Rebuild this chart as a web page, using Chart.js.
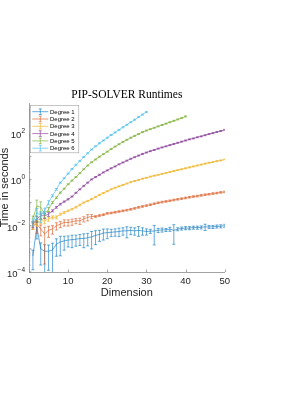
<!DOCTYPE html>
<html>
<head>
<meta charset="utf-8">
<script src="https://cdn.jsdelivr.net/npm/chart.js@4.4.1/dist/chart.umd.min.js"></script>
<style>
  html, body { margin: 0; padding: 0; background: #fff; }
  #wrap { width: 289px; height: 410px; }
</style>
</head>
<body>
<div id="wrap"><canvas id="runtimes" width="289" height="410"></canvas></div>
<script>
// dimensions 1..50
const dimension = [1, 2, 3, 4, 5, 6, 7, 8, 9, 10, 11, 12, 13, 14, 15, 16, 17, 18, 19, 20,
  21, 22, 23, 24, 25, 26, 27, 28, 29, 30, 31, 32, 33, 34, 35, 36, 37, 38, 39, 40,
  41, 42, 43, 44, 45, 46, 47, 48, 49, 50];

const degreeLabels = ['Degree 1', 'Degree 2', 'Degree 3', 'Degree 4', 'Degree 5', 'Degree 6'];

// mean runtime in seconds
const degree1 = [5.0e-4, 8.9e-3, 1.0e-3, 7.9e-4, 7.9e-4, 8.9e-4, 1.6e-3, 2.0e-3, 2.2e-3, 2.4e-3,
  2.5e-3, 2.6e-3, 2.8e-3, 2.8e-3, 3.0e-3, 3.3e-3, 3.8e-3, 4.2e-3, 4.8e-3, 5.0e-3,
  5.2e-3, 5.4e-3, 5.6e-3, 6.0e-3, 6.0e-3, 6.3e-3, 6.0e-3, 6.3e-3, 6.0e-3, 5.6e-3,
  5.8e-3, 5.9e-3, 6.3e-3, 6.6e-3, 6.6e-3, 7.1e-3, 6.3e-3, 7.1e-3, 7.6e-3, 7.9e-3,
  7.9e-3, 8.3e-3, 8.3e-3, 8.5e-3, 8.9e-3, 8.9e-3, 8.9e-3, 9.3e-3, 9.5e-3, 1.0e-2];
const degree2 = [1.0e-2, 1.17e-2, 7.2e-3, 4.4e-3, 6.3e-3, 7.2e-3, 1.0e-2, 1.17e-2, 1.38e-2, 1.38e-2,
  1.48e-2, 1.62e-2, 1.62e-2, 1.95e-2, 2.3e-2, 2.5e-2, 2.5e-2, 2.75e-2, 3.0e-2, 3.4e-2,
  3.55e-2, 3.8e-2, 4.1e-2, 4.4e-2, 4.7e-2, 5.1e-2, 5.6e-2, 6.2e-2, 6.8e-2, 7.4e-2,
  8.1e-2, 8.9e-2, 9.8e-2, 0.105, 0.112, 0.12, 0.129, 0.138, 0.148, 0.158,
  0.17, 0.182, 0.19, 0.204, 0.219, 0.229, 0.245, 0.257, 0.275, 0.288];
const degree3 = [1.0e-2, 1.38e-2, 1.62e-2, 1.62e-2, 1.95e-2, 2.3e-2, 2.3e-2, 3.16e-2, 3.7e-2, 4.4e-2,
  5.2e-2, 6.3e-2, 7.9e-2, 0.1, 0.117, 0.141, 0.174, 0.214, 0.257, 0.309,
  0.372, 0.437, 0.501, 0.575, 0.661, 0.759, 0.851, 0.955, 1.07, 1.17,
  1.32, 1.45, 1.58, 1.74, 1.91, 2.09, 2.29, 2.51, 2.75, 3.02,
  3.31, 3.63, 3.98, 4.37, 4.79, 5.25, 5.62, 6.17, 6.61, 7.24];
const degree4 = [1.17e-2, 1.95e-2, 2.7e-2, 2.7e-2, 3.16e-2, 4.4e-2, 6.2e-2, 8.5e-2, 0.11, 0.138,
  0.182, 0.263, 0.372, 0.525, 0.724, 1.0, 1.26, 1.58, 2.0, 2.45,
  3.02, 3.63, 4.47, 5.37, 6.46, 7.76, 9.12, 10.7, 12.6, 14.5,
  16.6, 18.6, 21.4, 24.0, 26.9, 30.2, 33.9, 38.0, 42.7, 47.9,
  53.7, 58.9, 66.1, 72.4, 81.3, 91.2, 100, 112, 123, 138];
const degree5 = [2.0e-2, 7.1e-2, 6.3e-2, 3.16e-2, 5.1e-2, 0.1, 0.162, 0.269, 0.398, 0.617,
  0.891, 1.26, 1.86, 2.75, 3.98, 5.5, 7.24, 9.55, 12.3, 15.8,
  20.4, 26.3, 33.1, 41.7, 51.3, 63.1, 75.9, 91.2, 110, 129,
  148, 170, 195, 224, 257, 295, 339, 389, 447, 525];
const degree6 = [1.38e-2, 3.7e-2, 2.7e-2, 4.4e-2, 0.1, 0.195, 0.372, 0.724, 1.12, 1.78,
  2.82, 4.27, 6.31, 9.33, 13.5, 19.5, 26.9, 36.3, 47.9, 63.1,
  83.2, 107, 138, 178, 229, 295, 380, 490, 631, 813];

// standard deviation, as a fraction of the mean
const degree1Err = [0.75, 0.7, 0.8, 0.9, 0.85, 0.97, 0.7, 0.75, 0.6, 0.5,
  0.55, 0.5, 0.5, 0.6, 0.55, 0.7, 0.6, 0.5, 0.5, 0.45,
  0.35, 0.35, 0.4, 0.35, 0.5, 0.35, 0.35, 0.45, 0.35, 0.3,
  0.2, 0.75, 0.2, 0.2, 0.15, 0.2, 0.75, 0.15, 0.15, 0.15,
  0.15, 0.15, 0.15, 0.15, 0.3, 0.15, 0.15, 0.15, 0.15, 0.15];
const degree2Err = [0.3, 0.6, 0.5, 0.95, 0.5, 0.4, 0.35, 0.3, 0.3, 0.3,
  0.3, 0.25, 0.3, 0.25, 0.3, 0.2, 0.08, 0.08, 0.08, 0.08,
  0.08, 0.08, 0.08, 0.08, 0.08, 0.08, 0.08, 0.08, 0.08, 0.08,
  0.08, 0.08, 0.08, 0.08, 0.08, 0.08, 0.08, 0.08, 0.08, 0.08,
  0.08, 0.08, 0.08, 0.08, 0.08, 0.08, 0.08, 0.08, 0.08, 0.08];
const degree3Err = [0.3, 0.3, 0.25, 0.25, 0.2, 0.15, 0.15, 0.1, 0.1, 0.08,
  0.08, 0.08, 0.08, 0.06, 0.06, 0.06, 0.06, 0.05, 0.05, 0.05,
  0.05, 0.05, 0.05, 0.05, 0.05, 0.05, 0.05, 0.05, 0.05, 0.05,
  0.05, 0.05, 0.05, 0.05, 0.05, 0.05, 0.05, 0.05, 0.05, 0.05,
  0.05, 0.05, 0.05, 0.05, 0.05, 0.05, 0.05, 0.05, 0.05, 0.05];
const degree4Err = [0.3, 0.3, 0.3, 0.25, 0.2, 0.1, 0.08, 0.08, 0.06, 0.06,
  0.05, 0.05, 0.05, 0.05, 0.05, 0.05, 0.05, 0.05, 0.05, 0.05,
  0.05, 0.05, 0.05, 0.05, 0.05, 0.05, 0.05, 0.05, 0.05, 0.05,
  0.05, 0.05, 0.05, 0.05, 0.05, 0.05, 0.05, 0.05, 0.05, 0.05,
  0.05, 0.05, 0.05, 0.05, 0.05, 0.05, 0.05, 0.05, 0.05, 0.05];
const degree5Err = [0.3, 0.8, 0.7, 0.3, 0.2, 0.1, 0.08, 0.06, 0.05, 0.05,
  0.05, 0.05, 0.05, 0.05, 0.05, 0.05, 0.05, 0.05, 0.05, 0.05,
  0.05, 0.05, 0.05, 0.05, 0.05, 0.05, 0.05, 0.05, 0.05, 0.05,
  0.05, 0.05, 0.05, 0.05, 0.05, 0.05, 0.05, 0.05, 0.05, 0.05];
const degree6Err = [0.3, 0.5, 0.5, 0.3, 0.2, 0.1, 0.08, 0.06, 0.05, 0.05,
  0.05, 0.05, 0.05, 0.05, 0.05, 0.05, 0.05, 0.05, 0.05, 0.05,
  0.05, 0.05, 0.05, 0.05, 0.05, 0.05, 0.05, 0.05, 0.05, 0.05];

const xTicks = [0, 10, 20, 30, 40, 50];
const yTickExponents = [-4, -2, 0, 2];

const lineColors = ['rgba(0,114,189,0.75)', 'rgba(217,83,25,0.75)', 'rgba(237,177,32,0.8)',
  'rgba(126,47,142,0.75)', 'rgba(119,172,48,0.8)', 'rgba(77,190,238,0.85)'];
const allSeries = [degree1, degree2, degree3, degree4, degree5, degree6];
const allErrors = [degree1Err, degree2Err, degree3Err, degree4Err, degree5Err, degree6Err];

const datasets = allSeries.map((series, k) => ({
  label: degreeLabels[k],
  data: series.map((v, i) => ({ x: dimension[i], y: v })),
  borderColor: lineColors[k],
  borderWidth: 0.8,
  pointRadius: 0,
  fill: false,
  tension: 0,
  order: 6 - k,
  errFrac: allErrors[k],
}));

// error bars, ticks, superscript labels, title and legend in MATLAB style
const matlabLook = {
  id: 'matlabLook',
  afterDatasetDraw(chart, args) {
    const ds = chart.data.datasets[args.index];
    const xs = chart.scales.x, ys = chart.scales.y;
    const area = chart.chartArea;
    const ctx = chart.ctx;
    ctx.save();
    ctx.beginPath();
    ctx.rect(area.left, area.top - 2, area.right - area.left, area.bottom - area.top + 2);
    ctx.clip();
    ctx.strokeStyle = ds.borderColor;
    ctx.lineWidth = 0.8;
    ds.data.forEach((p, i) => {
      const e = ds.errFrac[i] * p.y;
      const px = xs.getPixelForValue(p.x);
      const top = ys.getPixelForValue(p.y + e);
      const lo = p.y - e;
      const bot = lo > ys.min ? ys.getPixelForValue(lo) : area.bottom;
      ctx.beginPath();
      ctx.moveTo(px, top); ctx.lineTo(px, bot);
      ctx.moveTo(px - 1.5, top); ctx.lineTo(px + 1.5, top);
      if (lo > ys.min) { ctx.moveTo(px - 1.5, bot); ctx.lineTo(px + 1.5, bot); }
      ctx.stroke();
    });
    ctx.restore();
  },
  afterDraw(chart) {
    const ctx = chart.ctx;
    const area = chart.chartArea;
    const xs = chart.scales.x, ys = chart.scales.y;
    ctx.save();
    // inward ticks
    ctx.strokeStyle = '#8a8a8a';
    ctx.lineWidth = 0.8;
    ctx.beginPath();
    xTicks.forEach(v => {
      const px = Math.round(xs.getPixelForValue(v)) + 0.5;
      ctx.moveTo(px, area.bottom); ctx.lineTo(px, area.bottom - 2.5);
    });
    for (let e = -4; e <= 3; e++) {
      for (let m = 1; m <= 9; m++) {
        const v = m * Math.pow(10, e);
        if (v < ys.min || v > ys.max) continue;
        const py = ys.getPixelForValue(v);
        ctx.moveTo(area.left, py); ctx.lineTo(area.left + (m === 1 ? 2.5 : 1.3), py);
      }
    }
    ctx.stroke();

    // y tick labels with superscripts
    ctx.fillStyle = '#262626';
    ctx.textBaseline = 'middle';
    yTickExponents.forEach(ex => {
      const py = ys.getPixelForValue(Math.pow(10, ex));
      const sup = ex < 0 ? '\u2212' + (-ex) : String(ex);
      ctx.font = '6.5px "Liberation Sans", Arial, sans-serif';
      ctx.textAlign = 'right';
      const supW = ctx.measureText(sup).width;
      ctx.fillText(sup, 25, py - 2);
      ctx.font = '9.5px "Liberation Sans", Arial, sans-serif';
      ctx.fillText('10', 25 - supW, py + 2.3);
    });

    // title
    ctx.fillStyle = '#000';
    ctx.font = '11.5px "Liberation Serif", "Times New Roman", serif';
    ctx.textAlign = 'center';
    ctx.fillText('PIP-SOLVER Runtimes', (area.left + area.right) / 2, 95);

    // legend
    const bx = 30, by = 105, bw = 48.3, bh = 47.3;
    ctx.fillStyle = '#fff';
    ctx.fillRect(bx, by, bw, bh);
    ctx.strokeStyle = '#a0a0a0';
    ctx.lineWidth = 0.6;
    ctx.strokeRect(bx + 0.5, by + 0.5, bw, bh);
    chart.data.datasets.forEach((ds, k) => {
      const ly = 111.7 + k * 7.3;
      ctx.strokeStyle = ds.borderColor;
      ctx.lineWidth = 0.8;
      ctx.beginPath();
      ctx.moveTo(32.3, ly); ctx.lineTo(48.3, ly);
      ctx.moveTo(40.3, ly - 2.8); ctx.lineTo(40.3, ly + 2.8);
      ctx.moveTo(38.8, ly - 2.8); ctx.lineTo(41.8, ly - 2.8);
      ctx.moveTo(38.8, ly + 2.8); ctx.lineTo(41.8, ly + 2.8);
      ctx.stroke();
      ctx.fillStyle = '#000';
      ctx.font = '6px "Liberation Sans", Arial, sans-serif';
      ctx.textAlign = 'left';
      ctx.fillText(ds.label, 50, ly + 0.3);
    });
    ctx.restore();
  }
};

const ctx = document.getElementById('runtimes');
window.myChart = new Chart(ctx, {
  type: 'line',
  data: { datasets: datasets },
  options: {
    responsive: false,
    animation: false,
    layout: { padding: { left: 0, right: 64.3, top: 103, bottom: 108 } },
    plugins: {
      legend: { display: false },
      tooltip: { enabled: false },
      title: { display: false },
    },
    scales: {
      x: {
        type: 'linear',
        min: 0,
        max: 50,
        afterBuildTicks: s => { s.ticks = xTicks.map(v => ({ value: v })); },
        afterFit: s => { s.height = 30; },
        grid: { display: false, drawTicks: false },
        border: { display: true, color: '#8a8a8a', width: 0.8 },
        ticks: {
          padding: 4,
          maxRotation: 0,
          color: '#262626',
          font: { family: '"Liberation Sans", Arial, sans-serif', size: 9.5 },
        },
        title: {
          display: true,
          text: 'Dimension',
          color: '#262626',
          padding: { top: 0, bottom: 2.1 },
          font: { family: '"Liberation Sans", Arial, sans-serif', size: 11 },
        },
      },
      y: {
        type: 'logarithmic',
        min: 1e-4,
        max: 1995,
        afterFit: s => { s.width = 29; },
        grid: { display: false, drawTicks: false },
        border: { display: true, color: '#8a8a8a', width: 0.8 },
        ticks: { display: false },
        title: {
          display: true,
          text: 'Time in seconds',
          color: '#262626',
          padding: { top: -2.1, bottom: 0 },
          font: { family: '"Liberation Sans", Arial, sans-serif', size: 11 },
        },
      },
    },
  },
  plugins: [matlabLook],
});
</script>
</body>
</html>
